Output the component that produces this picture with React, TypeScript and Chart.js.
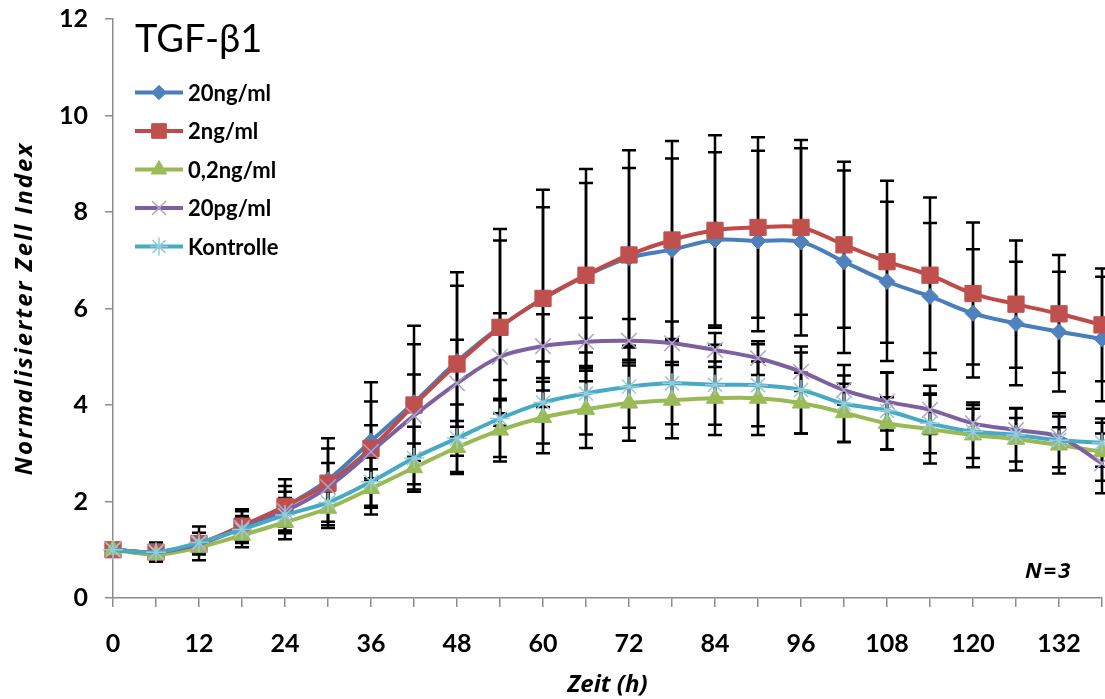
import React, { useEffect, useRef } from 'react';
import { Chart, registerables } from 'chart.js';
import { drawPoint } from 'chart.js/helpers';

Chart.register(...registerables);

const hours = [0, 6, 12, 18, 24, 30, 36, 42, 48, 54, 60, 66, 72, 78, 84, 90, 96, 102, 108, 114, 120, 126, 132, 138];
const xTickLabels = ['0', '12', '24', '36', '48', '60', '72', '84', '96', '108', '120', '132'];
const yTickLabels = ['0', '2', '4', '6', '8', '10', '12'];

const seriesNames = ['20ng/ml', '2ng/ml', '0,2ng/ml', '20pg/ml', 'Kontrolle'];

const v20ng = [1.0, 0.95, 1.12, 1.5, 1.9, 2.45, 3.25, 4.05, 4.9, 5.62, 6.2, 6.68, 7.05, 7.22, 7.42, 7.4, 7.38, 6.97, 6.56, 6.25, 5.9, 5.69, 5.52, 5.37];
const e20ng = [0, 0.1, 0.15, 0.3, 0.42, 0.65, 0.82, 1.21, 1.57, 1.79, 1.9, 1.92, 1.86, 1.89, 1.82, 1.87, 1.94, 1.89, 1.65, 1.52, 1.33, 1.28, 1.24, 1.29];
const v2ng = [1.0, 0.95, 1.13, 1.49, 1.9, 2.38, 3.1, 4.0, 4.85, 5.61, 6.21, 6.69, 7.11, 7.42, 7.62, 7.68, 7.68, 7.32, 6.97, 6.69, 6.31, 6.09, 5.89, 5.66];
const e2ng = [0, 0.2, 0.35, 0.35, 0.56, 0.93, 1.37, 1.64, 1.9, 2.04, 2.25, 2.2, 2.17, 2.05, 1.97, 1.87, 1.81, 1.72, 1.68, 1.61, 1.47, 1.32, 1.22, 1.17];
const v02ng = [1.0, 0.9, 1.05, 1.3, 1.57, 1.86, 2.27, 2.7, 3.12, 3.48, 3.74, 3.91, 4.04, 4.1, 4.14, 4.14, 4.04, 3.84, 3.62, 3.5, 3.38, 3.29, 3.17, 3.03];
const e02ng = [0, 0.1, 0.15, 0.25, 0.35, 0.35, 0.4, 0.5, 0.55, 0.65, 0.74, 0.8, 0.78, 0.79, 0.76, 0.76, 0.63, 0.6, 0.54, 0.71, 0.67, 0.65, 0.59, 0.6];
const v20pg = [1.0, 0.95, 1.12, 1.45, 1.8, 2.3, 3.03, 3.78, 4.45, 5.0, 5.22, 5.31, 5.33, 5.28, 5.14, 4.97, 4.69, 4.31, 4.07, 3.9, 3.62, 3.48, 3.34, 2.79];
const e20pg = [0, 0.1, 0.15, 0.25, 0.4, 0.5, 0.55, 0.85, 0.9, 0.9, 0.66, 0.5, 0.45, 0.45, 0.35, 0.35, 0.4, 0.3, 0.6, 0.5, 0.3, 0.25, 0.2, 0.62];
const vKontrolle = [1.0, 0.95, 1.15, 1.42, 1.72, 1.98, 2.41, 2.9, 3.31, 3.72, 4.05, 4.24, 4.38, 4.45, 4.42, 4.41, 4.31, 4.03, 3.88, 3.62, 3.45, 3.38, 3.27, 3.22];
const eKontrolle = [0, 0.1, 0.2, 0.25, 0.35, 0.4, 0.5, 0.65, 0.7, 0.8, 0.85, 0.85, 0.85, 0.85, 0.83, 0.85, 0.9, 0.8, 0.8, 0.62, 0.55, 0.55, 0.56, 0.5];

const FONT = 'Lato, "Open Sans", "DejaVu Sans", sans-serif';
const TFONT = '"Open Sans", Lato, "DejaVu Sans", sans-serif';

const styles = [
  { line: '#4A7EBB', fill: '#4F81BD', pborder: '#4F81BD', pstyle: 'rectRot', r: 8, pw: 1 },
  { line: '#BE4B48', fill: '#C0504D', pborder: '#C0504D', pstyle: 'rect', r: 11.5, pw: 1 },
  { line: '#98B954', fill: '#9BBB59', pborder: '#9BBB59', pstyle: 'triangle', r: 10, pw: 1 },
  { line: '#7D60A0', fill: 'rgba(0,0,0,0)', pborder: '#B3A2C7', pstyle: 'crossRot', r: 11, pw: 1.5 },
  { line: '#46AAC5', fill: 'rgba(0,0,0,0)', pborder: '#93CDDD', pstyle: 'star', r: 10, pw: 1.5 },
];

export default function App() {
  const ref = useRef<HTMLCanvasElement>(null);

  useEffect(() => {
    document.body.style.margin = '0';
    const values = [v20ng, v2ng, v02ng, v20pg, vKontrolle];
    const errors = [e20ng, e2ng, e02ng, e20pg, eKontrolle];

    const errPlugin = {
      id: 'errbars',
      beforeDatasetsDraw(chart: any) {
        const { ctx, scales } = chart;
        const x = scales.x, y = scales.y;
        ctx.save();
        ctx.strokeStyle = '#000';
        ctx.lineWidth = 2.5;
        values.forEach((vals, si) => {
          vals.forEach((v, i) => {
            const e = errors[si][i];
            if (!e) return;
            const px = x.getPixelForValue(hours[i]);
            const top = y.getPixelForValue(v + e);
            const bot = y.getPixelForValue(v - e);
            ctx.beginPath();
            ctx.moveTo(px, top);
            ctx.lineTo(px, bot);
            ctx.moveTo(px - 7, top);
            ctx.lineTo(px + 7, top);
            ctx.moveTo(px - 7, bot);
            ctx.lineTo(px + 7, bot);
            ctx.stroke();
          });
        });
        ctx.restore();
      },
    };

    const decorPlugin = {
      id: 'decor',
      afterDraw(chart: any) {
        const ctx = chart.ctx;
        const area = chart.chartArea;
        ctx.save();
        ctx.fillStyle = '#000';
        ctx.textAlign = 'left';
        ctx.textBaseline = 'alphabetic';
        ctx.font = `38px ${FONT}`;
        ctx.fillText('TGF-β1', 135, 52);
        // legend
        seriesNames.forEach((name, i) => {
          const cy = 92.5 + i * 38.5;
          const st = styles[i];
          ctx.strokeStyle = st.line;
          ctx.lineWidth = 4;
          ctx.beginPath();
          ctx.moveTo(135, cy);
          ctx.lineTo(183, cy);
          ctx.stroke();
          ctx.fillStyle = st.fill;
          ctx.strokeStyle = st.pborder;
          ctx.lineWidth = st.pw;
          drawPoint(ctx, { pointStyle: st.pstyle, radius: st.r * 0.9, rotation: 0, borderWidth: st.pw } as any, 159, cy);
          ctx.fillStyle = '#000';
          ctx.font = `bold 22px ${FONT}`;
          ctx.textBaseline = 'middle';
          ctx.fillText(name, 188, cy + 1);
          ctx.textBaseline = 'alphabetic';
        });
        // N=3
        ctx.font = `italic bold 22px ${TFONT}`;
        (ctx as any).letterSpacing = '2px';
        ctx.fillText('N=3', 1025, 578);
        // x title
        ctx.textAlign = 'center';
        ctx.font = `italic bold 24px ${TFONT}`;
        (ctx as any).letterSpacing = '0px';
        ctx.fillText('Zeit (h)', (area.left + area.right) / 2, 692);
        // y title
        ctx.save();
        ctx.translate(32, (area.top + area.bottom) / 2);
        ctx.rotate(-Math.PI / 2);
        (ctx as any).letterSpacing = '2px';
        ctx.fillText('Normalisierter Zell Index', 0, 0);
        ctx.restore();
        ctx.restore();
      },
    };

    const noPad = (s: any) => {
      s.paddingTop = 0;
      s.paddingBottom = 0;
      s.paddingLeft = 0;
      s.paddingRight = 0;
    };

    const chart = new Chart(ref.current as HTMLCanvasElement, {
      type: 'line',
      data: {
        datasets: values.map((vals, i) => ({
          label: seriesNames[i],
          data: vals.map((v, j) => ({ x: hours[j], y: v })),
          borderColor: styles[i].line,
          backgroundColor: styles[i].fill,
          borderWidth: 4,
          pointStyle: styles[i].pstyle as any,
          pointRadius: styles[i].r,
          pointBackgroundColor: styles[i].fill,
          pointBorderColor: styles[i].pborder,
          pointBorderWidth: styles[i].pw,
          tension: 0.35,
          order: 5 - i,
          clip: false as any,
        })),
      },
      options: {
        animation: false,
        responsive: false,
        events: [],
        layout: { autoPadding: false, padding: { top: 19, right: 3, left: 0, bottom: 0 } },
        plugins: { legend: { display: false }, tooltip: { enabled: false }, title: { display: false } },
        scales: {
          x: {
            type: 'linear',
            min: 0,
            max: 138,
            afterFit: (s: any) => { s.height = 101; noPad(s); },
            afterBuildTicks: (s: any) => { s.ticks = hours.map((h) => ({ value: h })); },
            ticks: {
              autoSkip: false,
              maxRotation: 0,
              padding: 22,
              color: '#000',
              font: { family: FONT, size: 25, weight: 'bold' },
              callback: (v: any) => (v % 12 === 0 && v / 12 < xTickLabels.length ? xTickLabels[v / 12] : ''),
            },
            grid: { display: true, drawOnChartArea: false, drawTicks: true, tickLength: 9, color: '#8c8c8c', lineWidth: 1.5 },
            border: { display: true, color: '#8c8c8c', width: 1.5 },
          },
          y: {
            min: 0,
            max: 12,
            afterFit: (s: any) => { s.width = 113; noPad(s); },
            ticks: {
              stepSize: 2,
              padding: 17,
              color: '#000',
              font: { family: FONT, size: 25, weight: 'bold' },
              callback: (v: any) => yTickLabels[v / 2],
            },
            grid: { display: true, drawOnChartArea: false, drawTicks: true, tickLength: 8, color: '#8c8c8c', lineWidth: 1.5 },
            border: { display: true, color: '#8c8c8c', width: 1.5 },
          },
        },
      },
      plugins: [errPlugin, decorPlugin],
    });
    return () => chart.destroy();
  }, []);

  return <canvas ref={ref} width={1105} height={699} style={{ display: 'block', width: 1105, height: 699 }} />;
}
